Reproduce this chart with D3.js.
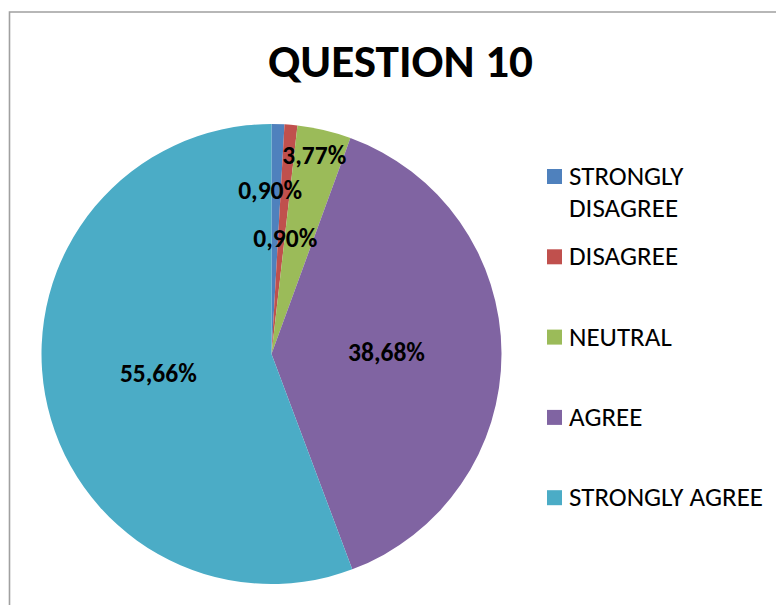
<!DOCTYPE html>
<html>
<head>
<meta charset="utf-8">
<script src="https://cdn.jsdelivr.net/npm/d3@7"></script>
<style>
  html, body { margin: 0; padding: 0; background: #ffffff; }
  svg { display: block; }
  text { font-family: Calibri, Carlito, "Open Sans", sans-serif; }
</style>
</head>
<body>
<svg id="chart" width="776" height="605"></svg>
<script>
// ---- data ----
const title = "QUESTION 10";
const categories = ["STRONGLY DISAGREE", "DISAGREE", "NEUTRAL", "AGREE", "STRONGLY AGREE"];
const legendLines = [["STRONGLY", "DISAGREE"], ["DISAGREE"], ["NEUTRAL"], ["AGREE"], ["STRONGLY AGREE"]];
const values = [0.90, 0.90, 3.77, 38.68, 55.66];
const labels = ["0,90%", "0,90%", "3,77%", "38,68%", "55,66%"];
const colors = ["#4F81BD", "#C0504D", "#9BBB59", "#8064A2", "#4BACC6"];

// ---- layout (not data) ----
const W = 776, H = 605;
const cx = 271.5, cy = 354, R = 230;
const labelRadiusFrac = [0.71, 0.5, 0.885, 0.5, 0.5];
const labelNudgeX = [-6, 4, -4, 0, 0];

const svg = d3.select("#chart");

// frame
svg.append("path")
  .attr("d", `M9.5,${H} L9.5,12 L${W},12`)
  .attr("fill", "none")
  .attr("stroke", "#a0a0a0")
  .attr("stroke-width", 1.6);

// title
svg.append("text")
  .attr("x", 400.5).attr("y", 77)
  .attr("text-anchor", "middle")
  .attr("font-weight", "bold")
  .attr("font-size", 46)
  .attr("textLength", 265)
  .attr("lengthAdjust", "spacingAndGlyphs")
  .attr("fill", "#000")
  .text(title);

// pie
const data = categories.map((c, i) => ({ name: c, value: values[i], label: labels[i], color: colors[i], i }));
const pie = d3.pie().sort(null).value(d => d.value);
const arcs = pie(data);
const arc = d3.arc().innerRadius(0).outerRadius(R);

const g = svg.append("g").attr("transform", `translate(${cx},${cy})`);
g.selectAll("path.slice")
  .data(arcs)
  .join("path")
  .attr("class", "slice")
  .attr("d", arc)
  .attr("fill", d => d.data.color);

g.selectAll("text.lbl")
  .data(arcs)
  .join("text")
  .attr("class", "lbl")
  .attr("transform", d => {
    const a = (d.startAngle + d.endAngle) / 2;
    const r = R * labelRadiusFrac[d.data.i];
    const x = Math.sin(a) * r + labelNudgeX[d.data.i];
    const y = -Math.cos(a) * r;
    return `translate(${x},${y})`;
  })
  .attr("dy", "0.31em")
  .attr("text-anchor", "middle")
  .attr("font-weight", "bold")
  .attr("font-size", 25.5)
  .attr("fill", "#000")
  .text(d => d.data.label);

// legend
const legendX = 547, sw = 15, textX = 569;
const y0 = 185, step = 80.3, lineH = 31.5;
const leg = svg.append("g");
data.forEach((d, i) => {
  const base = y0 + step * i;
  leg.append("rect")
    .attr("x", legendX).attr("y", base - 16)
    .attr("width", sw).attr("height", sw)
    .attr("fill", d.color);
  const t = leg.append("text")
    .attr("x", textX).attr("y", base)
    .attr("font-size", 27)
    .attr("fill", "#000");
  legendLines[i].forEach((ln, k) => {
    t.append("tspan").attr("x", textX).attr("y", base + k * lineH).text(ln);
  });
});
</script>
</body>
</html>
